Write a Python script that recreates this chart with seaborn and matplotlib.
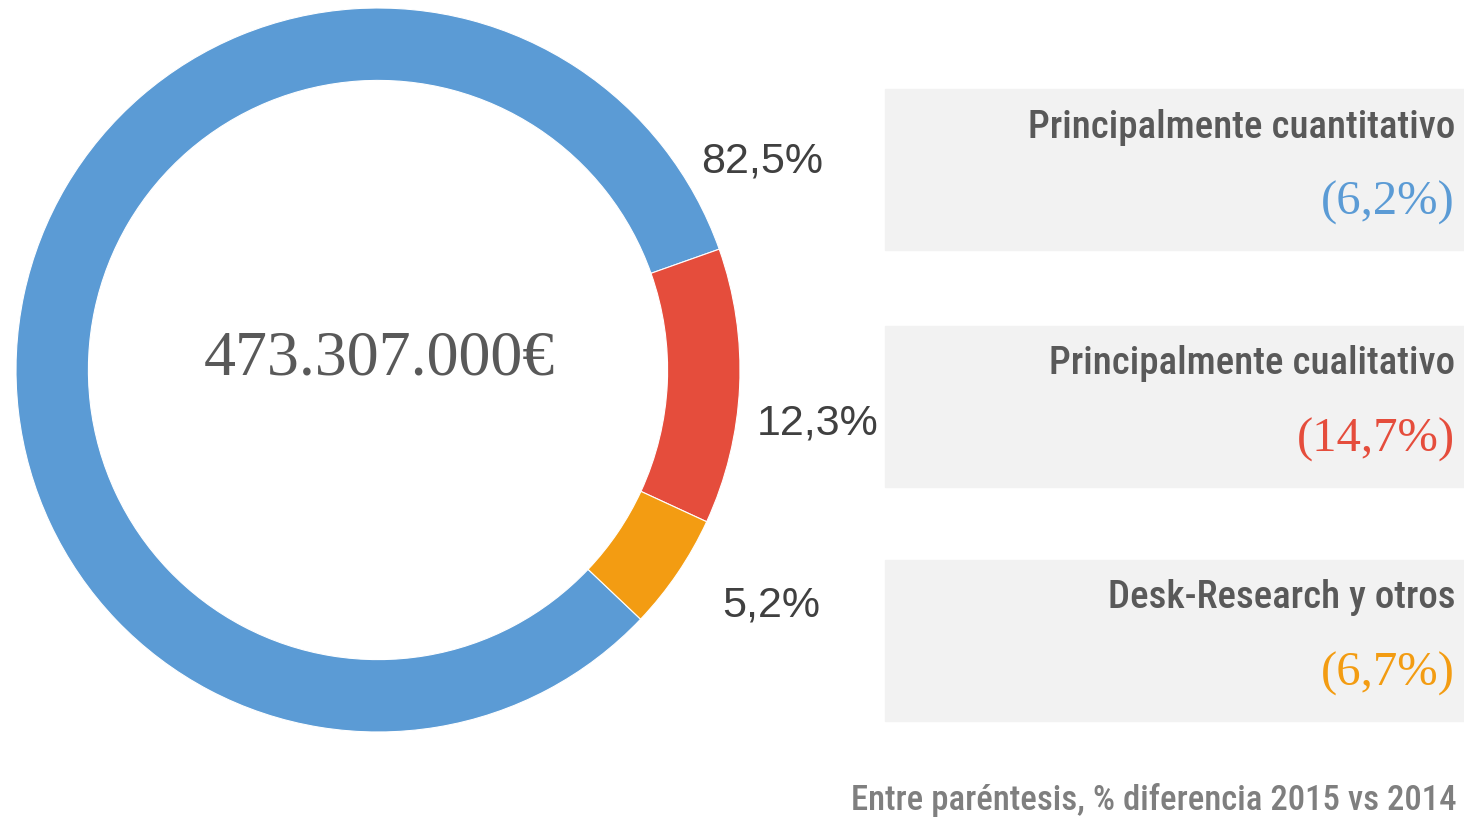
import matplotlib.pyplot as plt
import seaborn as sns
from matplotlib.patches import Rectangle

# donnees du graphique
categories = ['Principalmente cuantitativo', 'Principalmente cualitativo', 'Desk-Research y otros']
parts = [82.5, 12.3, 5.2]
etiquettes = ['82,5%', '12,3%', '5,2%']
differences = ['(6,2%)', '(14,7%)', '(6,7%)']
total = '473.307.000€'
note = 'Entre paréntesis, % diferencia 2015 vs 2014'
couleurs = ['#5b9bd5', '#e54d3c', '#f39c12']

sns.set_theme(style='white')
plt.rcParams['font.family'] = ['Liberation Sans', 'DejaVu Sans']
narrow = ['Roboto Condensed', 'DejaVu Sans']
serif = ['Liberation Serif', 'DejaVu Serif']

W, H = 1464, 819
fig = plt.figure(figsize=(W / 100, H / 100), dpi=100)

def fx(px):
    return px / W

def fy(py):
    return 1 - py / H

# le donut
cx, cy, r = 378, 370, 362
ax = fig.add_axes([fx(cx - r), fy(cy + r), 2 * r / W, 2 * r / H])
ax.pie(parts, colors=couleurs, startangle=-43.5, counterclock=False,
       wedgeprops=dict(width=0.2, edgecolor='white', linewidth=0.8))
ax.set_xlim(-1, 1)
ax.set_ylim(-1, 1)
ax.set_aspect('equal')
ax.axis('off')
ax.text(0.005, 0.03, total, ha='center', va='center', fontsize=46,
        color='#595959', family=serif)

# les pourcentages a cote du donut
pos_labels = [(762, 161), (818, 423), (771, 605)]
for lab, (px, py) in zip(etiquettes, pos_labels):
    fig.text(fx(px), fy(py), lab, ha='center', va='center', fontsize=31,
             color='#404040')

# les boites de droite
boites = [89, 326, 560]
for cat, diff, col, top in zip(categories, differences, couleurs, boites):
    fig.patches.append(Rectangle((fx(885), fy(top + 161)), fx(1464) - fx(885), 161 / H,
                                 transform=fig.transFigure, color='#f2f2f2', zorder=0))
    fig.text(fx(1455), fy(top + 38), cat, ha='right', va='center', fontsize=28,
             color='#595959', family=narrow, fontweight=500)
    fig.text(fx(1455), fy(top + 114), diff, ha='right', va='center', fontsize=35,
             color=col, family=serif)

fig.text(fx(1457), fy(800), note, ha='right', va='center', fontsize=25,
         color='#7f7f7f', family=narrow, fontweight=500)

fig.savefig('out.png', dpi=100)
